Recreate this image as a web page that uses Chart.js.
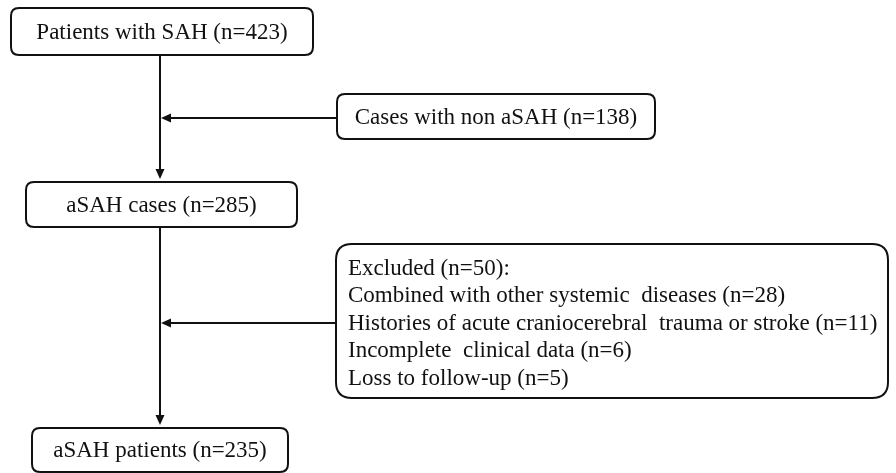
<!DOCTYPE html>
<html>
<head>
<meta charset="utf-8">
<script src="https://cdn.jsdelivr.net/npm/chart.js@4"></script>
<style>
  html, body { margin: 0; padding: 0; background: #fff; }
  canvas { display: block; }
</style>
</head>
<body>
<canvas id="flow" width="896" height="473"></canvas>
<script>
// flow stages (main column)
const stageLabels = ['Patients with SAH', 'aSAH cases', 'aSAH patients'];
const stageCounts = [423, 285, 235];

// side boxes
const exclusionTitles = ['Cases with non aSAH', 'Excluded'];
const exclusionCounts = [138, 50];

// reasons listed in the second side box
const reasonLabels = [
    'Combined with other systemic  diseases',
    'Histories of acute craniocerebral  trauma or stroke',
    'Incomplete  clinical data',
    'Loss to follow-up'
];
const reasonCounts = [28, 11, 6, 5];

// layout, in the same units as the hidden scales (px of a 896x473 page)
const layout = {
    mainX: 160,
    stageBoxes: [
        { x0: 11, x1: 313, y0: 8, y1: 55 },
        { x0: 26, x1: 297, y0: 182, y1: 227 },
        { x0: 32, x1: 288, y0: 428, y1: 472 }
    ],
    sideBoxes: [
        { x0: 337, x1: 655, y0: 94, y1: 139, arrowY: 118, radius: 8 },
        { x0: 336, x1: 888, y0: 244, y1: 398, arrowY: 323, radius: 16 }
    ],
    firstLineY: 269,
    lineStep: 27.4,
    textPad: 12
};

const font = '23px "Liberation Serif", "Times New Roman", serif';

function fmt(label, n) {
    return label + ' (n=' + n + ')';
}

function roundRect(ctx, x0, y0, x1, y1, r) {
    ctx.beginPath();
    ctx.moveTo(x0 + r, y0);
    ctx.lineTo(x1 - r, y0);
    ctx.quadraticCurveTo(x1, y0, x1, y0 + r);
    ctx.lineTo(x1, y1 - r);
    ctx.quadraticCurveTo(x1, y1, x1 - r, y1);
    ctx.lineTo(x0 + r, y1);
    ctx.quadraticCurveTo(x0, y1, x0, y1 - r);
    ctx.lineTo(x0, y0 + r);
    ctx.quadraticCurveTo(x0, y0, x0 + r, y0);
    ctx.closePath();
    ctx.stroke();
}

function arrowHead(ctx, x, y, dir) {
    ctx.beginPath();
    if (dir === 'down') {
        ctx.moveTo(x, y);
        ctx.lineTo(x - 4.5, y - 10);
        ctx.lineTo(x + 4.5, y - 10);
    } else {
        ctx.moveTo(x, y);
        ctx.lineTo(x + 10, y - 4.5);
        ctx.lineTo(x + 10, y + 4.5);
    }
    ctx.closePath();
    ctx.fill();
}

const flowPlugin = {
    id: 'flow',
    afterDraw(chart) {
        const ctx = chart.ctx;
        const sx = chart.scales.x;
        const sy = chart.scales.y;
        const px = (v) => sx.getPixelForValue(v);
        const py = (v) => sy.getPixelForValue(v);

        ctx.save();
        ctx.strokeStyle = '#111';
        ctx.fillStyle = '#111';
        ctx.lineWidth = 2;
        ctx.font = font;
        const mx = px(layout.mainX);

        // stage boxes
        layout.stageBoxes.forEach((b, i) => {
            roundRect(ctx, px(b.x0), py(b.y0), px(b.x1), py(b.y1), 8);
            ctx.textAlign = 'center';
            ctx.textBaseline = 'middle';
            ctx.fillText(fmt(stageLabels[i], stageCounts[i]), (px(b.x0) + px(b.x1)) / 2, (py(b.y0) + py(b.y1)) / 2 + 1);
        });

        // vertical connectors between stages
        for (let i = 0; i < layout.stageBoxes.length - 1; i++) {
            const top = py(layout.stageBoxes[i].y1);
            const bottom = py(layout.stageBoxes[i + 1].y0) - 3;
            ctx.beginPath();
            ctx.moveTo(mx, top);
            ctx.lineTo(mx, bottom - 8);
            ctx.stroke();
            arrowHead(ctx, mx, bottom, 'down');
        }

        // side boxes and their arrows
        layout.sideBoxes.forEach((b, i) => {
            roundRect(ctx, px(b.x0), py(b.y0), px(b.x1), py(b.y1), b.radius);
            const ay = py(b.arrowY);
            ctx.beginPath();
            ctx.moveTo(px(b.x0), ay);
            ctx.lineTo(mx + 8, ay);
            ctx.stroke();
            arrowHead(ctx, mx + 1, ay, 'left');

            const head = fmt(exclusionTitles[i], exclusionCounts[i]);
            if (i === 0) {
                ctx.textAlign = 'center';
                ctx.textBaseline = 'middle';
                ctx.fillText(head, (px(b.x0) + px(b.x1)) / 2, (py(b.y0) + py(b.y1)) / 2 + 1);
            } else {
                ctx.textAlign = 'left';
                ctx.textBaseline = 'middle';
                const tx = px(b.x0) + layout.textPad;
                let ty = py(layout.firstLineY);
                ctx.fillText(head + ':', tx, ty);
                reasonLabels.forEach((r, k) => {
                    ty += layout.lineStep;
                    ctx.fillText(fmt(r, reasonCounts[k]), tx, ty);
                });
            }
        });
        ctx.restore();
    }
};

new Chart(document.getElementById('flow'), {
    type: 'scatter',
    data: { datasets: [{ data: [] }] },
    options: {
        responsive: false,
        animation: false,
        layout: { padding: 0 },
        plugins: { legend: { display: false }, tooltip: { enabled: false } },
        scales: {
            x: { type: 'linear', min: 0, max: 896, display: false },
            y: { type: 'linear', min: 0, max: 473, reverse: true, display: false }
        }
    },
    plugins: [flowPlugin]
});
</script>
</body>
</html>
